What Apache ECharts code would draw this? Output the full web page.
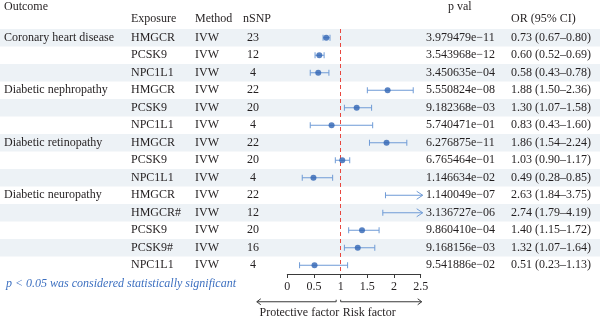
<!DOCTYPE html>
<html>
<head>
<meta charset="utf-8">
<script src="https://cdn.jsdelivr.net/npm/echarts@6/dist/echarts.min.js"></script>
<style>
  html, body { margin: 0; padding: 0; background: #fff; }
  #chart { width: 600px; height: 321px; }
</style>
</head>
<body>
<div id="chart"></div>
<script>
// Mendelian randomization results: lipid-lowering drug targets vs. outcomes
const outcomes  = ['Coronary heart disease', '', '', 'Diabetic nephropathy', '', '', 'Diabetic retinopathy', '', '', 'Diabetic neuropathy', '', '', '', ''];
const exposures = ['HMGCR', 'PCSK9', 'NPC1L1', 'HMGCR', 'PCSK9', 'NPC1L1', 'HMGCR', 'PCSK9', 'NPC1L1', 'HMGCR', 'HMGCR#', 'PCSK9', 'PCSK9#', 'NPC1L1'];
const methods   = ['IVW', 'IVW', 'IVW', 'IVW', 'IVW', 'IVW', 'IVW', 'IVW', 'IVW', 'IVW', 'IVW', 'IVW', 'IVW', 'IVW'];
const nSNP      = [23, 12, 4, 22, 20, 4, 22, 20, 4, 22, 12, 20, 16, 4];
const pValues   = ['3.979479e\u221211', '3.543968e\u221212', '3.450635e\u221204', '5.550824e\u221208', '9.182368e\u221203',
                   '5.740471e\u221201', '6.276875e\u221211', '6.765464e\u221201', '1.146634e\u221202', '1.140049e\u221207',
                   '3.136727e\u221206', '9.860410e\u221204', '9.168156e\u221203', '9.541886e\u221202'];
const oddsRatio = [0.73, 0.60, 0.58, 1.88, 1.30, 0.83, 1.86, 1.03, 0.49, 2.63, 2.74, 1.40, 1.32, 0.51];
const ciLower   = [0.67, 0.52, 0.43, 1.50, 1.07, 0.43, 1.54, 0.90, 0.28, 1.84, 1.79, 1.15, 1.07, 0.23];
const ciUpper   = [0.80, 0.69, 0.78, 2.36, 1.58, 1.60, 2.24, 1.17, 0.85, 3.75, 4.19, 1.72, 1.64, 1.13];
const xTicks    = [0, 0.5, 1, 1.5, 2, 2.5];
const nullValue = 1;

const FONT = '"Liberation Serif", "DejaVu Serif", serif';
const TXT = '#231f20';
const CI_COLOR = '#6f9bd6';
const PT_COLOR = '#2f64b4';
const STRIPE = '#edf2f6';
const AX_MIN = xTicks[0];
const AX_MAX = xTicks[xTicks.length - 1];
const PAGE_W = 600; // full-width table axis runs in page pixels

const rowIds = exposures.map((_, i) => i);
const orText = oddsRatio.map((v, i) => v.toFixed(2) + ' (' + ciLower[i].toFixed(2) + '\u2013' + ciUpper[i].toFixed(2) + ')');

// one text column of the table, placed by the full-width grid's axes
function column(values, x, align) {
  return {
    type: 'custom', xAxisIndex: 0, yAxisIndex: 0, silent: true, z: 3,
    data: values.map((_, i) => [x, i]),
    renderItem: (params, api) => {
      const i = api.value(1);
      const p = api.coord([api.value(0), i]);
      return {
        type: 'text', x: p[0], y: p[1],
        style: { text: String(values[i]), font: '12px ' + FONT, fill: TXT, align: align || 'left', verticalAlign: 'middle' }
      };
    }
  };
}

const chart = echarts.init(document.getElementById('chart'), null, { renderer: 'canvas' });

const option = {
  animation: false,
  backgroundColor: '#fff',
  grid: [
    { left: 0, right: 0, top: 29, height: 245, outerBoundsMode: 'none', containLabel: false },
    { left: 287.3, right: 179.3, top: 29, height: 245, outerBoundsMode: 'none', containLabel: false }
  ],
  xAxis: [
    { type: 'value', gridIndex: 0, min: 0, max: PAGE_W, show: false },
    {
      type: 'value', gridIndex: 1, min: AX_MIN, max: AX_MAX, interval: xTicks[1] - xTicks[0],
      axisLine: { show: true, lineStyle: { color: '#3a3a3a', width: 1 } },
      axisTick: { show: true, inside: false, length: 4, lineStyle: { color: '#3a3a3a' } },
      axisLabel: { fontFamily: FONT, fontSize: 12, color: TXT, margin: 7 },
      splitLine: { show: false }
    }
  ],
  yAxis: [
    { type: 'category', gridIndex: 0, data: rowIds, inverse: true, show: false },
    { type: 'category', gridIndex: 1, data: rowIds, inverse: true, show: false }
  ],
  graphic: [
    { type: 'text', x: 4, y: 7, style: { text: 'Outcome', font: '12px ' + FONT, fill: TXT, verticalAlign: 'middle' } },
    { type: 'text', x: 131, y: 19, style: { text: 'Exposure', font: '12px ' + FONT, fill: TXT, verticalAlign: 'middle' } },
    { type: 'text', x: 195, y: 19, style: { text: 'Method', font: '12px ' + FONT, fill: TXT, verticalAlign: 'middle' } },
    { type: 'text', x: 243, y: 19, style: { text: 'nSNP', font: '12px ' + FONT, fill: TXT, verticalAlign: 'middle' } },
    { type: 'text', x: 448, y: 7, style: { text: 'p val', font: '12px ' + FONT, fill: TXT, verticalAlign: 'middle' } },
    { type: 'text', x: 511, y: 19, style: { text: 'OR (95% CI)', font: '12px ' + FONT, fill: TXT, verticalAlign: 'middle' } },
    { type: 'text', x: 6, y: 284, style: { text: 'p < 0.05 was considered statistically significant', font: 'italic 12px ' + FONT, fill: '#3d70c0', verticalAlign: 'middle' } }
  ],
  series: [
    // zebra stripes across the whole table
    {
      type: 'bar', xAxisIndex: 0, yAxisIndex: 0, silent: true, z: 1,
      barWidth: '100%',
      itemStyle: { color: STRIPE },
      data: rowIds.map(i => (i % 2 === 0 ? PAGE_W : 0))
    },
    column(outcomes, 4),
    column(exposures, 131),
    column(methods, 195),
    column(nSNP, 253, 'center'),
    column(pValues, 426),
    column(orText, 511),
    // confidence intervals, with an arrow where the upper limit runs off the axis
    {
      type: 'custom', xAxisIndex: 1, yAxisIndex: 1, silent: true, z: 4, clip: false,
      data: rowIds.map(i => [ciLower[i], i, ciUpper[i]]),
      encode: { x: [0, 2], y: 1 },
      renderItem: (params, api) => {
        const lo = api.value(0), row = api.value(1), hi = api.value(2);
        const a = api.coord([lo, row]);
        const capped = hi > AX_MAX;
        const b = api.coord([Math.min(hi, AX_MAX), row]);
        const y = a[1];
        const st = { stroke: CI_COLOR, lineWidth: 1, fill: null };
        const kids = [
          { type: 'line', shape: { x1: a[0], y1: y - 3, x2: a[0], y2: y + 3 }, style: st }
        ];
        if (capped) {
          const tip = b[0] + 2;
          kids.push({ type: 'line', shape: { x1: a[0], y1: y, x2: tip, y2: y }, style: st });
          kids.push({ type: 'polyline', shape: { points: [[tip - 6, y - 4], [tip, y], [tip - 6, y + 4]] }, style: st });
        } else {
          kids.push({ type: 'line', shape: { x1: a[0], y1: y, x2: b[0], y2: y }, style: st });
          kids.push({ type: 'line', shape: { x1: b[0], y1: y - 3, x2: b[0], y2: y + 3 }, style: st });
        }
        return { type: 'group', children: kids };
      }
    },
    // point estimates and the line of no effect
    {
      type: 'scatter', xAxisIndex: 1, yAxisIndex: 1, silent: true, z: 5,
      symbol: 'circle', symbolSize: 6,
      itemStyle: { color: PT_COLOR },
      data: rowIds.filter(i => oddsRatio[i] <= AX_MAX).map(i => [oddsRatio[i], i]),
      markLine: {
        silent: true, symbol: ['none', 'none'], animation: false,
        label: { show: false },
        lineStyle: { color: '#e8473f', type: [4, 3], width: 1 },
        data: [{ xAxis: nullValue }]
      }
    },
    // direction arrows beneath the axis
    {
      type: 'custom', xAxisIndex: 1, yAxisIndex: 1, silent: true, z: 4, clip: false,
      data: [[nullValue, rowIds.length - 1]],
      renderItem: (params, api) => {
        const c = api.coord([api.value(0), api.value(1)]);
        const x0 = api.coord([AX_MIN, api.value(1)])[0];
        const x1 = api.coord([AX_MAX, api.value(1)])[0];
        const y = c[1] + 36.5;
        const ty = c[1] + 47.5;
        const st = { stroke: '#3a3a3a', lineWidth: 1, fill: null };
        const lEnd = x0 - 30.5, lIn = c[0] - 4.5;
        const rIn = c[0], rEnd = x1 + 1;
        return {
          type: 'group', children: [
            { type: 'line', shape: { x1: lEnd, y1: y, x2: lIn, y2: y }, style: st },
            { type: 'polyline', shape: { points: [[lEnd + 4, y - 3], [lEnd, y], [lEnd + 4, y + 3]] }, style: st },
            { type: 'line', shape: { x1: lIn, y1: y, x2: lIn, y2: y - 2 }, style: st },
            { type: 'line', shape: { x1: rIn, y1: y, x2: rEnd, y2: y }, style: st },
            { type: 'polyline', shape: { points: [[rEnd - 4, y - 3], [rEnd, y], [rEnd - 4, y + 3]] }, style: st },
            { type: 'line', shape: { x1: rIn, y1: y, x2: rIn, y2: y - 2 }, style: st },
            { type: 'text', x: c[0] - 1.5, y: ty, style: { text: 'Protective factor', font: '12px ' + FONT, fill: TXT, align: 'right', verticalAlign: 'middle' } },
            { type: 'text', x: c[0] + 2, y: ty, style: { text: 'Risk factor', font: '12px ' + FONT, fill: TXT, align: 'left', verticalAlign: 'middle' } }
          ]
        };
      }
    }
  ]
};

chart.setOption(option);
</script>
</body>
</html>
